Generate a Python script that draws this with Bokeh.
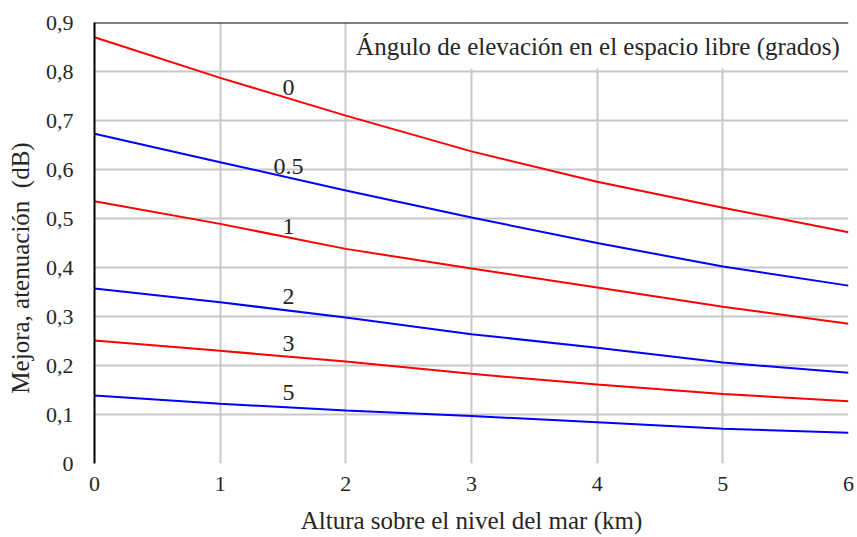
import math
from bokeh.plotting import figure
from bokeh.models import (Range1d, FixedTicker, CustomJSTickFormatter, Span,
                          BoxAnnotation, Label, ColumnDataSource)
from bokeh.core.properties import value
from bokeh.embed import file_html
from bokeh.resources import INLINE

# ---- data ----
altura_km = [0, 1, 2, 3, 4, 5, 6]
angulos = ["0", "0.5", "1", "2", "3", "5"]
mejora_0 = [0.870, 0.787, 0.710, 0.637, 0.575, 0.522, 0.472]
mejora_05 = [0.673, 0.615, 0.557, 0.502, 0.450, 0.402, 0.363]
mejora_1 = [0.535, 0.489, 0.438, 0.398, 0.359, 0.320, 0.285]
mejora_2 = [0.357, 0.329, 0.298, 0.264, 0.236, 0.206, 0.185]
mejora_3 = [0.251, 0.230, 0.208, 0.183, 0.161, 0.142, 0.127]
mejora_5 = [0.139, 0.122, 0.108, 0.097, 0.084, 0.071, 0.063]
x_ticks = [0, 1, 2, 3, 4, 5, 6]
y_ticks = [0, 0.1, 0.2, 0.3, 0.4, 0.5, 0.6, 0.7, 0.8, 0.9]

# curve label anchor positions
etiqueta_x = [1.544, 1.544, 1.544, 1.544, 1.544, 1.544]
etiqueta_y = [0.767, 0.606, 0.484, 0.340, 0.245, 0.145]

series = [mejora_0, mejora_05, mejora_1, mejora_2, mejora_3, mejora_5]
colores = ["#ff0000", "#0000ff", "#ff0000", "#0000ff", "#ff0000", "#0000ff"]

FONT = "Liberation Serif"
TXT = "#262626"
NBSP = "\u00a0"

p = figure(width=857, height=537, x_range=Range1d(0, 6), y_range=Range1d(0, 0.9),
           output_backend="svg", toolbar_location=None,
           min_border_left=94, min_border_right=9, min_border_top=22, min_border_bottom=74)
p.outline_line_color = None
p.background_fill_color = "white"
p.border_fill_color = "white"

# grids
p.xgrid.ticker = FixedTicker(ticks=[t for t in x_ticks if 0 < t < 6])
p.ygrid.ticker = FixedTicker(ticks=[t for t in y_ticks if 0 < t < 0.85])
p.grid.grid_line_color = "#c8c8c8"
p.grid.grid_line_width = 2

# x axis
xa = p.xaxis[0]
xa.ticker = FixedTicker(ticks=x_ticks)
xa.axis_line_color = None
xa.major_tick_line_color = None
xa.minor_tick_line_color = None
xa.major_label_text_font = FONT
xa.major_label_text_font_size = "22px"
xa.major_label_text_color = TXT
xa.major_label_standoff = 7
xa.axis_label = "Altura sobre el nivel del mar (km)"
xa.axis_label_text_font = FONT
xa.axis_label_text_font_size = "25px"
xa.axis_label_text_font_style = "normal"
xa.axis_label_text_color = TXT
xa.axis_label_standoff = 13

# y axis
ya = p.yaxis[0]
ya.ticker = FixedTicker(ticks=y_ticks)
ya.formatter = CustomJSTickFormatter(
    code="return tick < 1e-9 ? '0' : tick.toFixed(1).replace('.', ',');")
ya.axis_line_color = "black"
ya.axis_line_width = 2
ya.major_tick_line_color = None
ya.minor_tick_line_color = None
ya.major_label_text_font = FONT
ya.major_label_text_font_size = "22px"
ya.major_label_text_color = TXT
ya.major_label_standoff = 15
ya.axis_label = "Mejora, atenuación" + NBSP * 2 + "(dB)" + NBSP * 8
ya.axis_label_text_font = FONT
ya.axis_label_text_font_size = "25px"
ya.axis_label_text_font_style = "normal"
ya.axis_label_text_color = TXT
ya.axis_label_standoff = 9

# curves
for ys, c in zip(series, colores):
    p.line(altura_km, ys, line_color=c, line_width=2)

# curve labels
src = ColumnDataSource(dict(x=etiqueta_x, y=etiqueta_y, t=angulos))
p.text(x="x", y="y", text="t", source=src, text_font=value(FONT),
       text_font_size="24px", text_color=TXT, text_align="center",
       text_baseline="middle")

# white title box and top frame line
box = BoxAnnotation(left=2.01, right=6, bottom=0.806, top=0.9,
                    fill_color="white", fill_alpha=1.0, line_color=None, level="glyph")
p.add_layout(box)
p.add_layout(Span(location=0.9, dimension="width", line_color="black", line_width=2))

p.add_layout(Label(x=2.01, y=0.851, x_offset=9,
                   text="Ángulo de elevación en el espacio libre (grados)",
                   text_font=FONT, text_font_size="25px", text_color=TXT,
                   text_baseline="alphabetic", text_align="left"))

open("out.html", "w").write(file_html(p, INLINE))
